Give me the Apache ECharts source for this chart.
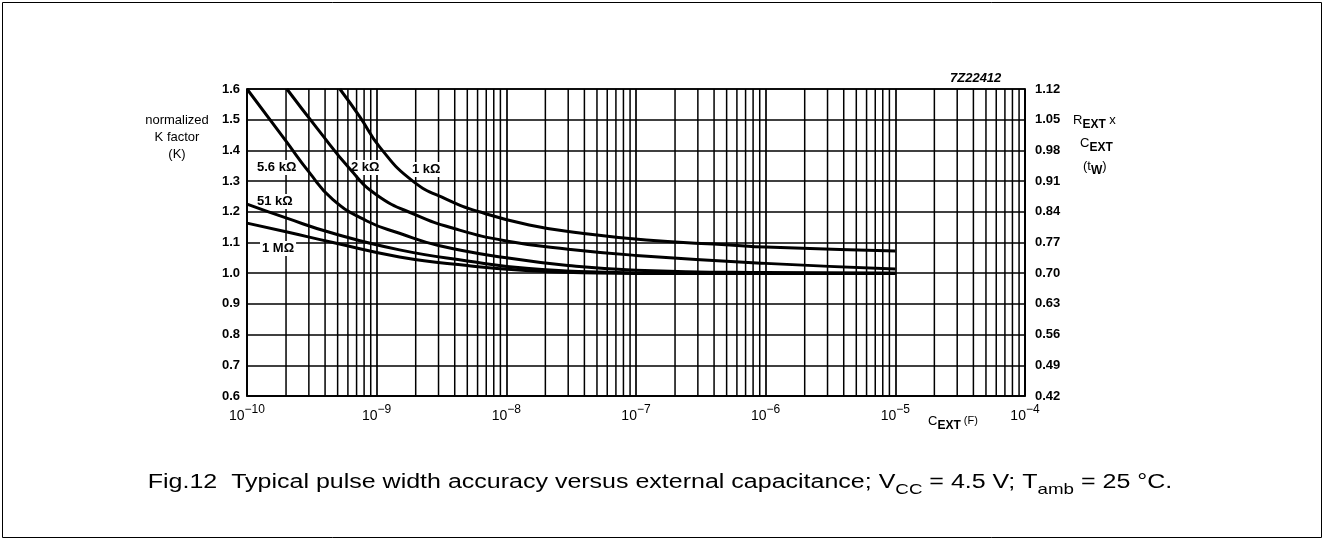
<!DOCTYPE html>
<html><head><meta charset="utf-8">
<script src="https://cdn.jsdelivr.net/npm/echarts@6/dist/echarts.min.js"></script>
<style>html,body{margin:0;padding:0;background:#fff}#c{width:1325px;height:541px}</style>
</head><body><div id="c"></div>
<script>
// ---- data ----
const decadeExponents = [-10, -9, -8, -7, -6, -5, -4];
const minorMultipliers = [2, 3, 4, 5, 6, 7, 8, 9];
const leftTickLabels = ['0.6','0.7','0.8','0.9','1.0','1.1','1.2','1.3','1.4','1.5','1.6'];
const rightTickLabels = ['0.42','0.49','0.56','0.63','0.70','0.77','0.84','0.91','0.98','1.05','1.12'];
const curveNames = ['1 kΩ', '2 kΩ', '5.6 kΩ', '51 kΩ', '1 MΩ'];

// capacitance (F) and K values per curve
const c_1k  = [5.2e-10, 7.4e-10, 1.06e-9, 1.9e-9, 3.5e-9, 6.2e-9, 1.5e-8, 3.7e-8, 1.2e-7, 5.3e-7, 1e-6, 1e-5];
const k_1k  = [1.60,    1.51,    1.41,    1.30,   1.24,   1.20,   1.157,  1.131,  1.108,  1.092,  1.085, 1.072];

const c_2k  = [2.03e-10, 3.5e-10, 6.2e-10, 1.0e-9, 2e-9,  4e-9,  1e-8,  3e-8,  1e-7,  1e-6,  1e-5];
const k_2k  = [1.60,     1.47,    1.34,    1.255,  1.19,  1.145, 1.105, 1.078, 1.058, 1.032, 1.014];

const c_5k6 = [1e-10, 2e-10, 3e-10, 4.6e-10, 8.4e-10, 1.5e-9, 3e-9,  1e-8,  3e-8,  1e-7,  1e-6,  1e-5];
const k_5k6 = [1.60,  1.43,  1.33,  1.24,    1.17,    1.13,   1.09,  1.05,  1.025, 1.01,  1.002, 1.0];

const c_51k = [1e-10, 2e-10, 4.6e-10, 1.5e-9, 5e-9,  1.5e-8, 5e-8,  2e-7,  1e-6,  1e-5];
const k_51k = [1.225, 1.18,  1.13,    1.076,  1.04,  1.015,  1.004, 1.0,   1.0,   1.0];

const c_1M  = [1e-10, 2e-10, 4.6e-10, 1.5e-9, 5e-9,  1.5e-8, 5e-8,  2e-7,  1e-6,  1e-5];
const k_1M  = [1.163, 1.135, 1.10,    1.053,  1.025, 1.008,  1.001, 0.999, 0.999, 0.999];

const curveData = [[c_1k, k_1k], [c_2k, k_2k], [c_5k6, k_5k6], [c_51k, k_51k], [c_1M, k_1M]];

// ---- chart ----
const FONT = 'Liberation Sans';
const Y_MIN = 0.6, Y_MAX = 1.6;
const chart = echarts.init(document.getElementById('c'), null, {renderer: 'canvas'});

const series = [];
// minor (2..9) vertical grid lines of each decade, drawn through the log axis
decadeExponents.slice(0, -1).forEach(d => {
  minorMultipliers.forEach(m => {
    const x = m * Math.pow(10, d);
    series.push({
      type: 'line', silent: true, symbol: 'none', z: 1,
      data: [[x, Y_MIN], [x, Y_MAX]],
      lineStyle: {color: '#000', width: 1.5}
    });
  });
});
curveData.forEach((cd, i) => series.push({
  name: curveNames[i],
  type: 'line',
  data: cd[0].map((c, j) => [c, cd[1][j]]),
  smooth: 0.5,
  symbol: 'none',
  clip: true,
  lineStyle: {color: '#000', width: 3},
  z: 5
}));

const labelStyle = {fontFamily: FONT, fontSize: 13, fontWeight: 'bold', fill: '#000', backgroundColor: '#fff', padding: [1, 2]};
const subRich = (big, small) => ({
  n: {fontFamily: FONT, fontSize: big, fill: '#000', lineHeight: big + 4, verticalAlign: 'top'},
  s: {fontFamily: FONT, fontSize: small, fontWeight: 'bold', fill: '#000', lineHeight: big + 4, verticalAlign: 'bottom'}
});

chart.setOption({
  animation: false,
  backgroundColor: '#fff',
  grid: {left: 247, right: 300, top: 89, bottom: 145, show: true, borderColor: '#000', borderWidth: 1.5},
  xAxis: {
    type: 'log', logBase: 10, min: 1e-10, max: 1e-4,
    axisLine: {show: true, lineStyle: {color: '#000', width: 1.5}},
    axisTick: {show: false},
    splitLine: {show: true, lineStyle: {color: '#000', width: 1.7}},
    axisLabel: {
      margin: 8,
      formatter: v => '{b|10}{s|−' + Math.abs(Math.round(Math.log10(v))) + '}',
      rich: {
        b: {fontFamily: FONT, fontSize: 14, color: '#000', verticalAlign: 'bottom', lineHeight: 19},
        s: {fontFamily: FONT, fontSize: 12, color: '#000', verticalAlign: 'top', lineHeight: 19}
      }
    }
  },
  yAxis: [{
    type: 'value', min: Y_MIN, max: Y_MAX, interval: 0.1,
    axisLine: {show: true, lineStyle: {color: '#000', width: 1.5}},
    axisTick: {show: false},
    splitLine: {show: true, lineStyle: {color: '#000', width: 1.6}},
    axisLabel: {
      margin: 7, color: '#000', fontFamily: FONT, fontSize: 13, fontWeight: 'bold',
      formatter: v => leftTickLabels[Math.round((v - Y_MIN) / 0.1)]
    }
  }, {
    type: 'value', min: Y_MIN, max: Y_MAX, interval: 0.1, position: 'right',
    axisLine: {show: true, lineStyle: {color: '#000', width: 1.5}},
    axisTick: {show: false},
    splitLine: {show: false},
    axisLabel: {
      margin: 10, color: '#000', fontFamily: FONT, fontSize: 13, fontWeight: 'bold',
      formatter: v => rightTickLabels[Math.round((v - Y_MIN) / 0.1)]
    }
  }],
  series: series,
  graphic: [
    {type: 'rect', shape: {x: 2.5, y: 2.5, width: 1319, height: 535}, style: {fill: 'none', stroke: '#000', lineWidth: 1}, silent: true, z: 100},
    {type: 'text', x: 950, y: 72, style: {text: '7Z22412', fontFamily: FONT, fontSize: 13, fontWeight: 'bold', fontStyle: 'italic', fill: '#000'}},
    {type: 'text', x: 177, y: 112, style: {text: 'normalized\nK factor\n(K)', fontFamily: FONT, fontSize: 13, lineHeight: 17, align: 'center', fill: '#000'}},
    {type: 'text', x: 1073, y: 114, style: {text: '{n|R}{s|EXT}{n| x}', rich: subRich(13, 12)}},
    {type: 'text', x: 1080, y: 137, style: {text: '{n|C}{s|EXT}', rich: subRich(13, 12)}},
    {type: 'text', x: 1083, y: 160, style: {text: '{n|(t}{s|W}{n|)}', rich: subRich(13, 12)}},
    {type: 'text', x: 928, y: 415, style: {
      text: '{n|C}{s|EXT}{f| (F)}',
      rich: Object.assign(subRich(13, 12), {f: {fontFamily: FONT, fontSize: 11, fill: '#000', lineHeight: 17, verticalAlign: 'top'}})
    }},
    {type: 'text', x: 255, y: 160, z: 3, style: Object.assign({text: curveNames[2]}, labelStyle)},
    {type: 'text', x: 349, y: 160, z: 3, style: Object.assign({text: curveNames[1]}, labelStyle)},
    {type: 'text', x: 410, y: 162, z: 3, style: Object.assign({text: curveNames[0]}, labelStyle)},
    {type: 'text', x: 255, y: 194, z: 3, style: Object.assign({text: curveNames[3]}, labelStyle)},
    {type: 'text', x: 260, y: 241, z: 3, style: Object.assign({text: curveNames[4]}, labelStyle)},
    {type: 'text', x: 660, y: 485, scaleX: 1.25, style: {
      text: '{n|Fig.12  Typical pulse width accuracy versus external capacitance; V}{s|CC}{n| = 4.5 V; T}{s|amb}{n| = 25 °C.}',
      align: 'center', verticalAlign: 'middle',
      rich: {
        n: {fontFamily: FONT, fontSize: 20, fill: '#000', lineHeight: 25, verticalAlign: 'top'},
        s: {fontFamily: FONT, fontSize: 15, fill: '#000', lineHeight: 25, verticalAlign: 'bottom'}
      }
    }}
  ]
});
</script></body></html>
